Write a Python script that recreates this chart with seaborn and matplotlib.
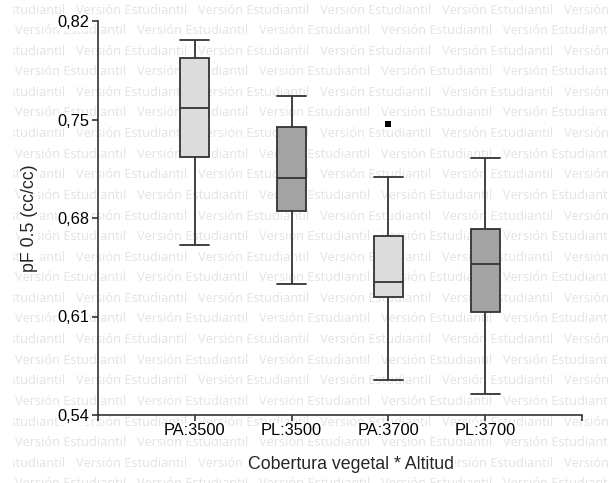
import numpy as np
import pandas as pd
import matplotlib
matplotlib.use("Agg")
import matplotlib.pyplot as plt
from matplotlib.transforms import Bbox
import seaborn as sns

# ---- data ----
categories = ["PA:3500", "PL:3500", "PA:3700", "PL:3700"]
whisker_low = [0.661, 0.633, 0.565, 0.555]
quartile_1 = [0.723, 0.685, 0.624, 0.6135]
median = [0.758, 0.7085, 0.6345, 0.6475]
quartile_3 = [0.794, 0.745, 0.667, 0.672]
whisker_high = [0.8065, 0.767, 0.709, 0.7225]
outlier_cat = ["PA:3700"]
outlier_val = [0.7467]
y_ticks = [0.54, 0.61, 0.68, 0.75, 0.82]
y_tick_labels = ["0,54", "0,61", "0,68", "0,75", "0,82"]
x_label = "Cobertura vegetal * Altitud"
y_label = "pF 0.5 (cc/cc)"
watermark = "Versión Estudiantil"

box_colors = ["#dcdcdc", "#a3a3a3", "#dcdcdc", "#a3a3a3"]

rows = []
for c, lo, a, m, b, hi in zip(categories, whisker_low, quartile_1, median, quartile_3, whisker_high):
    for v in (lo, a, m, b, hi):
        rows.append({"group": c, "value": v})
df = pd.DataFrame(rows)

sns.set_style("ticks")
plt.rcParams["font.family"] = ["Liberation Sans", "DejaVu Sans"]

W, H = 608, 483
fig = plt.figure(figsize=(W / 100, H / 100), dpi=100)
fig.patch.set_facecolor("white")
ax = fig.add_axes([98 / W, 1 - 415 / H, 484 / W, 394 / H])
ax.patch.set_alpha(0)

sns.boxplot(data=df, x="group", y="value", hue="group", order=categories,
            hue_order=categories, palette=box_colors, legend=False, width=0.3,
            whis=(0, 100), linecolor="#333333", linewidth=1.3, showfliers=False,
            ax=ax, capwidths=0.3)
sns.stripplot(x=outlier_cat, y=outlier_val, order=categories, jitter=False,
              marker="s", size=4, color="black", linewidth=0, ax=ax, zorder=5)

ax.set_xlim(-1, 4)
ax.set_ylim(0.54, 0.82)
ax.set_xticks([-1, 0, 1, 2, 3, 4])
ax.set_xticklabels([""] + categories + [""])
ax.set_yticks(y_ticks)
ax.set_yticklabels(y_tick_labels)
sns.despine(ax=ax)
for s in ("left", "bottom"):
    ax.spines[s].set_color("#333333")
    ax.spines[s].set_linewidth(1.2)
ax.tick_params(direction="out", length=4, width=1.2, color="#333333",
               labelsize=11.8, pad=2, labelcolor="black")

bb = dict(facecolor="white", edgecolor="none", pad=0.5)
for lab in ax.get_xticklabels() + ax.get_yticklabels():
    if lab.get_text():
        lab.set_bbox(bb)

ax.set_xlabel(x_label, fontsize=12.8, bbox=bb)
ax.set_ylabel(y_label, fontsize=12.8, bbox=bb)
ax.xaxis.set_label_coords((351 - 98) / 484, -0.105)
ax.yaxis.set_label_coords(-0.125, 0.5)

# watermark background
clip = Bbox.from_extents(13, 0, W, H)
for i in range(24):
    yc = H - (10 + 20.6 * i)
    x0 = -46 if i % 2 == 0 else 15
    for k in range(6):
        x = x0 + 122 * k
        t = fig.text(x / W, yc / H, watermark, ha="left", va="center",
                     fontsize=9.2, color="#e3e3e3", family="Open Sans", zorder=-5)
        t.set_clip_box(clip)
        t.set_clip_on(True)

fig.savefig("out.png", dpi=100, facecolor="white")
